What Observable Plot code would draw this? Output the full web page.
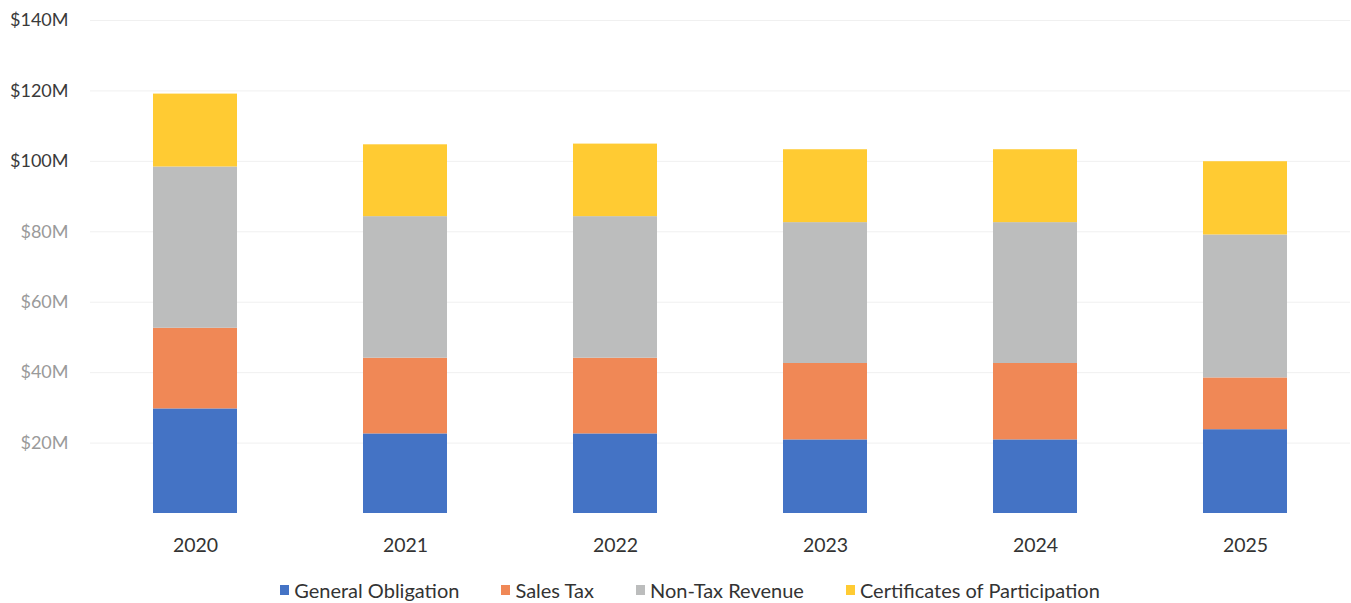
<!DOCTYPE html>
<html>
<head>
<meta charset="utf-8">
<script src="https://cdn.jsdelivr.net/npm/d3@7"></script>
<script src="https://cdn.jsdelivr.net/npm/@observablehq/plot@0.6"></script>
<style>
  html, body { margin: 0; padding: 0; background: #fff; }
  body { width: 1351px; height: 603px; overflow: hidden; font-family: Lato, "Open Sans", sans-serif; }
  #legend { display: flex; justify-content: center; align-items: center; margin-top: 13px; padding-left: 29px; font-size: 20px; line-height: 24px; color: #333; }
  #legend .item { display: flex; align-items: center; margin: 0 21px; }
  #legend .sw { width: 9px; height: 10px; margin-right: 5px; }
</style>
</head>
<body>
<div id="chart"></div>
<div id="legend"></div>
<script>
const years = ["2020", "2021", "2022", "2023", "2024", "2025"];
const seriesNames = ["General Obligation", "Sales Tax", "Non-Tax Revenue", "Certificates of Participation"];
const colors = ["#4473C5", "#F08856", "#BCBDBD", "#FFCB33"];
// values in $M
const generalObligation = [29.7, 22.6, 22.6, 20.9, 20.9, 23.8];
const salesTax = [22.9, 21.5, 21.5, 21.7, 21.7, 14.7];
const nonTaxRevenue = [45.8, 40.2, 40.2, 40.0, 40.0, 40.6];
const certificates = [20.7, 20.4, 20.6, 20.7, 20.7, 20.8];
const yTicks = [20, 40, 60, 80, 100, 120, 140];

const seriesValues = [generalObligation, salesTax, nonTaxRevenue, certificates];
const data = [];
seriesNames.forEach((s, i) => years.forEach((y, j) => data.push({year: y, series: s, value: seriesValues[i][j]})));

const chart = Plot.plot({
  width: 1351,
  height: 565,
  marginLeft: 90,
  marginRight: 1,
  marginTop: 20,
  marginBottom: 52,
  style: {fontFamily: "Lato, 'Open Sans', sans-serif", fontSize: "19px", background: "#fff"},
  x: {domain: years, paddingInner: 0.6, paddingOuter: 0.3, label: null},
  y: {domain: [0, 140], label: null},
  color: {domain: seriesNames, range: colors},
  marks: [
    Plot.gridY(yTicks, {stroke: "#f0f0f0", strokeOpacity: 1, strokeWidth: 1}),
    Plot.barY(data, {x: "year", y: "value", fill: "series", order: seriesNames}),
    Plot.axisY(yTicks, {
      tickSize: 0, tickPadding: 22, label: null,
      tickFormat: d => `$${d}M`,
      fill: d => d >= 100 ? "#3a3a3a" : "#9a9a9a",
      fontSize: 18
    }),
    Plot.axisX({tickSize: 0, tickPadding: 25, label: null, fill: "#333", fontSize: 19.5})
  ]
});
document.getElementById("chart").appendChild(chart);

const legend = document.getElementById("legend");
seriesNames.forEach((s, i) => {
  const item = document.createElement("div");
  item.className = "item";
  const sw = document.createElement("span");
  sw.className = "sw";
  sw.style.background = colors[i];
  const t = document.createElement("span");
  t.textContent = s;
  item.appendChild(sw); item.appendChild(t);
  legend.appendChild(item);
});
</script>
</body>
</html>
